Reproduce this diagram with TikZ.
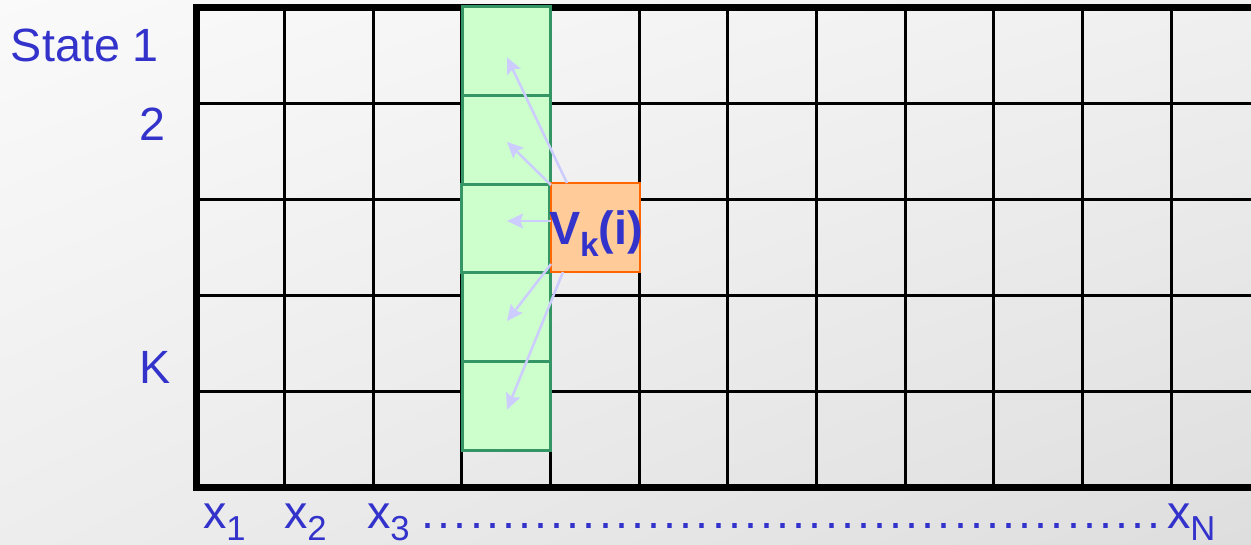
\documentclass[tikz,border=0pt]{standalone}
\usepackage{fontspec}
\setmainfont{Liberation Sans}
\usetikzlibrary{calc,arrows.meta,shadings}
\definecolor{txtblue}{RGB}{51,51,204}
\definecolor{gfill}{RGB}{204,255,204}
\definecolor{gdraw}{RGB}{51,150,100}
\definecolor{ofill}{RGB}{255,204,153}
\definecolor{odraw}{RGB}{255,102,0}
\definecolor{arr}{RGB}{204,204,255}
\newcommand\labfont{\fontsize{35}{40}\selectfont}
\newcommand\subfnt{\fontsize{26}{30}\selectfont}
\newcommand\xsub[1]{x\raisebox{-9pt}{\subfnt #1}}
\begin{document}
\begin{tikzpicture}[x=0.75pt,y=-0.75pt,
  lab/.style={anchor=base west,inner sep=0pt,outer sep=0pt,text=txtblue,font=\labfont},
  gridthin/.style={line width=2.25pt},
  gridthick/.style={line width=5.25pt},
  greenbox/.style={draw=gdraw,fill=gfill,line width=2.25pt,minimum width=66pt,minimum height=66.45pt,inner sep=0pt,outer sep=0pt},
  orangebox/.style={draw=odraw,fill=ofill,line width=1.8pt,minimum width=66.75pt,minimum height=66.75pt,inner sep=0pt,outer sep=0pt},
  link/.style={draw=arr,line width=1.9pt,-{Stealth[length=12pt,width=11pt,inset=2pt]}}
]
\useasboundingbox (0,0) rectangle (1251,545);
\shade[upper left=white!98!black, upper right=white!94!black, lower left=white!93!black, lower right=white!87!black] (0,0) rectangle (1251,545);
% grid
\foreach \i in {1,...,11} \draw[gridthin] ({196+88.65*\i},7.5) -- ({196+88.65*\i},487);
\foreach \j in {1,...,4} \draw[gridthin] (196,{7.5+95.9*\j}) -- (1251,{7.5+95.9*\j});
\draw[gridthick] (1251,7.5) -- (196,7.5) -- (196,487) -- (1251,487);
% green column
\node[greenbox] (g1) at (506,51.3) {};
\node[greenbox] (g2) at (506,139.9) {};
\node[greenbox] (g3) at (505.5,228.5) {};
\node[greenbox] (g4) at (506,317.1) {};
\node[greenbox] (g5) at (506,405.7) {};
% orange cell
\node[orangebox] (v) at (595.5,227.5) {};
% arrows
\draw[link] ($(v.north west)+(16,0)$) -- ($(g1.center)+(1,6)$);
\draw[link] ($(v.north west)+(0,2)$) -- ($(g2.center)+(1,2)$);
\draw[link] ($(v.west)+(0,-6.5)$) -- ($(g3.center)+(1.5,-7.5)$);
\draw[link] ($(v.south west)+(0,-8)$) -- ($(g4.center)+(1,4)$);
\draw[link] ($(v.south west)+(12,0)$) -- ($(g5.center)+(1,4)$);
% V_k(i)
\node[lab,font=\fontsize{35}{40}\selectfont\bfseries] (vk) at (549,244) {V\raisebox{-9.5pt}{\fontsize{25}{30}\selectfont\bfseries k}(i)};
% labels
\node[lab] (s1) at (11,62) {State 1};
\node[lab] (s2) at (139,141) {2};
\node[lab] (sK) at (139,383) {K};
\node[lab] (x1) at (203,528) {\xsub{1}};
\node[lab] (x2) at (284,528) {\xsub{2}};
\node[lab] (x3) at (367,528) {\xsub{3}};
\node[lab] (dots) at (420,528) {\hbox to 556.5pt{\xleaders\hbox to 12pt{\hss.\hss}\hfill}};
\node[lab] (xN) at (1167,528) {\xsub{N}};
\end{tikzpicture}
\end{document}
